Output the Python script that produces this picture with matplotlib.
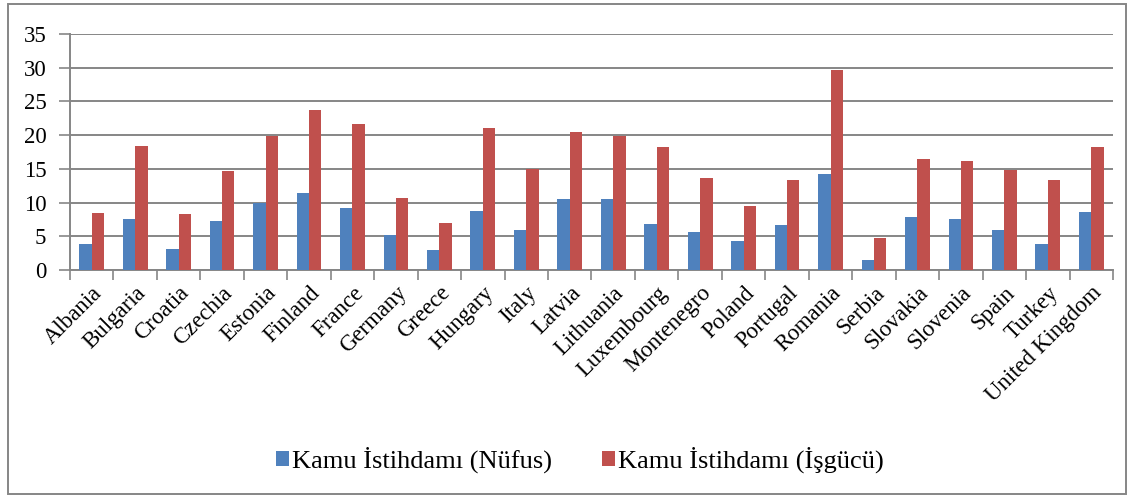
import numpy as np
import matplotlib
matplotlib.use('Agg')
import matplotlib.pyplot as plt
from matplotlib.patches import Rectangle

plt.rcParams['font.family'] = ['Liberation Serif', 'DejaVu Serif']

# Data
countries = ['Albania', 'Bulgaria', 'Croatia', 'Czechia', 'Estonia', 'Finland', 'France',
             'Germany', 'Greece', 'Hungary', 'Italy', 'Latvia', 'Lithuania', 'Luxembourg',
             'Montenegro', 'Poland', 'Portugal', 'Romania', 'Serbia', 'Slovakia', 'Slovenia',
             'Spain', 'Turkey', 'United Kingdom']
nufus = [3.9, 7.5, 3.1, 7.2, 10.0, 11.4, 9.2, 5.2, 3.0, 8.7, 5.9, 10.5, 10.5, 6.8,
         5.7, 4.3, 6.6, 14.3, 1.5, 7.9, 7.6, 6.0, 3.9, 8.6]
isgucu = [8.5, 18.4, 8.3, 14.7, 19.8, 23.8, 21.7, 10.7, 6.9, 21.1, 15.0, 20.5, 19.8, 18.3,
          13.6, 9.5, 13.4, 29.7, 4.8, 16.5, 16.1, 14.9, 13.4, 18.3]
labels = ['Kamu İstihdamı (Nüfus)', 'Kamu İstihdamı (İşgücü)']

blue = '#4F81BD'
red = '#C0504D'
grey = '#868686'

fig = plt.figure(figsize=(11.34, 4.98), dpi=100)
ax = fig.add_axes([70 / 1134, 1 - 270 / 498, (1113 - 70) / 1134, (270 - 34) / 498])

x = np.arange(len(countries))
w = 0.285
ax.bar(x - w / 2, nufus, w, color=blue, label=labels[0], zorder=3)
ax.bar(x + w / 2, isgucu, w, color=red, label=labels[1], zorder=3)

ax.set_xlim(-0.5, len(countries) - 0.5)
ax.set_ylim(0, 35)
ax.set_yticks(range(0, 36, 5))
ax.yaxis.grid(True, color=grey, linewidth=1.4, zorder=0)
ax.tick_params(axis='y', length=8, width=1.2, color=grey, labelsize=16.5, pad=9)

ax.set_xticks(x)
ax.set_xticklabels(countries, rotation=45, ha='right', rotation_mode='anchor', fontsize=16.5)
ax.tick_params(axis='x', which='major', length=0, pad=9)
ax.set_xticks(np.arange(-0.5, len(countries), 1), minor=True)
ax.tick_params(axis='x', which='minor', length=7, width=1.2, color=grey)

for s in ['top', 'right']:
    ax.spines[s].set_visible(False)
for s in ['left', 'bottom']:
    ax.spines[s].set_color(grey)
    ax.spines[s].set_linewidth(1.4)

fig.legend(loc='center', bbox_to_anchor=(0.511, 1 - 460 / 498), ncol=2, frameon=False,
           fontsize=19, handlelength=0.5, handleheight=0.55, handletextpad=0.1,
           columnspacing=1.9)

# Outer frame
fig.patches.append(Rectangle((8 / 1134, 4 / 498), 1118 / 1134, 490 / 498,
                             transform=fig.transFigure, fill=False,
                             edgecolor=grey, linewidth=1.4))

plt.savefig('out.png', dpi=100)
